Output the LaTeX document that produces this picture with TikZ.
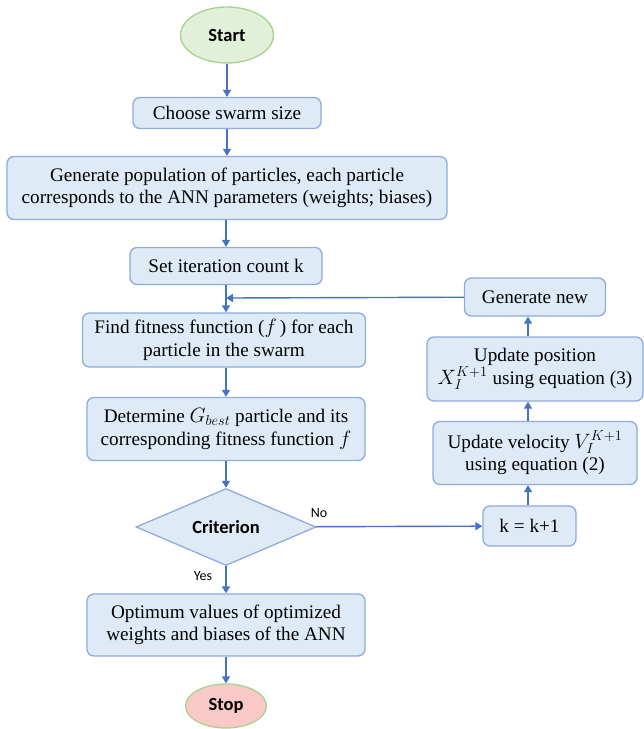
\documentclass[tikz,border=0pt]{standalone}
\usepackage{fontspec}
\setmainfont{Liberation Serif}
\newfontfamily\timesfont{Liberation Serif}
\newfontfamily\calibri{Carlito}
\usetikzlibrary{shapes.geometric,arrows.meta}

\definecolor{boxfill}{HTML}{DEEBF7}
\definecolor{boxline}{HTML}{8FAADC}
\definecolor{arrowblue}{HTML}{4472C4}
\definecolor{startfill}{HTML}{E2F0D9}
\definecolor{startline}{HTML}{A9D18E}
\definecolor{stopfill}{HTML}{F8C9C6}

\tikzset{
  procbox/.style={draw=boxline, fill=boxfill, line width=1.3pt, rounded corners=7pt,
    inner sep=0pt, align=center, font=\timesfont\fontsize{19.2}{22.5}\selectfont},
  terminal/.style={draw=startline, ellipse, line width=1.3pt, inner sep=0pt,
    font=\calibri\bfseries\fontsize{18.5}{22}\selectfont},
  flow/.style={draw=arrowblue, line width=1.4pt, -{Triangle[length=7pt,width=8pt]}},
  branch/.style={font=\calibri\fontsize{14}{16}\selectfont}
}

\begin{document}
\begin{tikzpicture}[x=1pt,y=-1pt]
\useasboundingbox (0,0) rectangle (644,729);

\node[terminal, fill=startfill, minimum width=93pt, minimum height=56pt] (start) at (227,35) {Start};
\node[procbox, minimum width=188pt, minimum height=31pt] (swarm) at (227,113) {Choose swarm size};
\node[procbox, minimum width=440pt, minimum height=63pt] (popul) at (227,188)
  {Generate population of particles, each particle\\corresponds to the ANN parameters (weights; biases)};
\node[procbox, minimum width=192pt, minimum height=37pt] (iter) at (226,266) {Set iteration count k};
\node[procbox, minimum width=283pt, minimum height=54pt] (fitness) at (224,340)
  {Find fitness function ($f$\,) for each\\particle in the swarm};
\node[procbox, minimum width=278pt, minimum height=63pt] (gbest) at (226,429)
  {Determine $G_{best}$ particle and its\\corresponding fitness function $f$};
\node[draw=boxline, fill=boxfill, line width=1.3pt, diamond, aspect=2.34, inner sep=0pt,
  minimum width=180pt, minimum height=77pt, font=\calibri\bfseries\fontsize{18.5}{22}\selectfont] (crit) at (226,527) {Criterion};
\node[procbox, minimum width=278pt, minimum height=62pt] (optim) at (226,625)
  {Optimum values of optimized\\weights and biases of the ANN};
\node[terminal, fill=stopfill, minimum width=81pt, minimum height=44pt] (stop) at (226,706) {Stop};

\node[procbox, minimum width=93pt, minimum height=40pt] (incr) at (529.5,526) {k = k+1};
\node[procbox, minimum width=204pt, minimum height=63pt] (veloc) at (535,453)
  {Update velocity $V_I^{K+1}$\\using equation (2)};
\node[procbox, minimum width=216pt, minimum height=64pt] (posit) at (535,369)
  {Update position\\$X_I^{K+1}$ using equation (3)};
\node[procbox, minimum width=141pt, minimum height=38pt] (gennew) at (535,297) {Generate new};

\coordinate (join) at (226,298);

\path[flow] (start) -- (swarm);
\path[flow] (swarm) -- (popul);
\path[flow] (popul.south -| iter) -- (iter);
\path[flow] (iter) -- (fitness.north -| iter);
\path[flow] (gennew) -- (join);
\path[flow] (fitness.south -| gbest) -- (gbest);
\path[flow] (gbest) -- (crit);
\path[flow] (crit) -- (optim);
\path[flow] (optim) -- (stop);
\path[flow] (crit) -- (incr);
\path[flow] (incr.north -| 528,0) -- (veloc.south -| 528,0);
\path[flow] (veloc.north -| 528,0) -- (posit.south -| 528,0);
\path[flow] (posit.north -| 528,0) -- (gennew.south -| 528,0);

\node[branch] (nolab) at (319,513) {No};
\node[branch] (yeslab) at (203,576) {Yes};
\end{tikzpicture}
\end{document}
